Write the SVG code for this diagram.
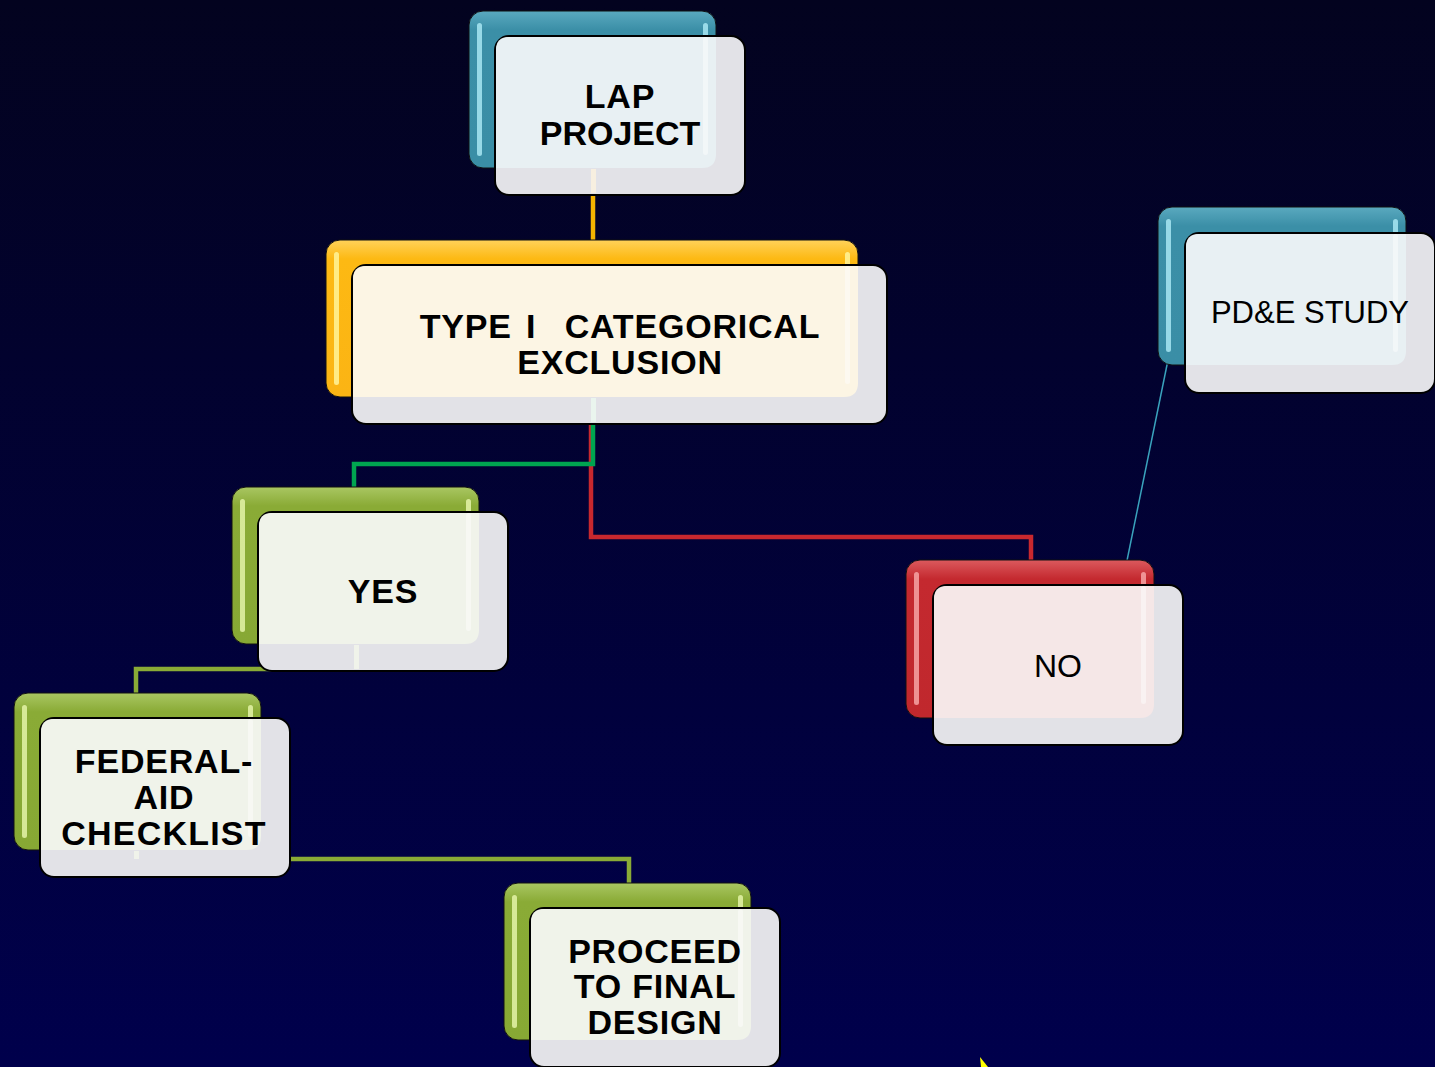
<svg xmlns="http://www.w3.org/2000/svg" width="1435" height="1067" viewBox="0 0 1435 1067">
<defs>
<linearGradient id="bg" x1="0" y1="0" x2="0" y2="1">
<stop offset="0" stop-color="#03031f"/>
<stop offset="1" stop-color="#00004c"/>
</linearGradient>
<linearGradient id="gBlue" x1="0" y1="0" x2="0" y2="1">
<stop offset="0" stop-color="#5aa9bf"/>
<stop offset="0.12" stop-color="#3b8fa7"/>
<stop offset="1" stop-color="#3a8ea6"/>
</linearGradient>
<linearGradient id="gOrange" x1="0" y1="0" x2="0" y2="1">
<stop offset="0" stop-color="#ffd25a"/>
<stop offset="0.12" stop-color="#fdb913"/>
<stop offset="1" stop-color="#fbb414"/>
</linearGradient>
<linearGradient id="gGreen" x1="0" y1="0" x2="0" y2="1">
<stop offset="0" stop-color="#a9c662"/>
<stop offset="0.12" stop-color="#8aab36"/>
<stop offset="1" stop-color="#87a834"/>
</linearGradient>
<linearGradient id="gRed" x1="0" y1="0" x2="0" y2="1">
<stop offset="0" stop-color="#dc5a5e"/>
<stop offset="0.12" stop-color="#c4292f"/>
<stop offset="1" stop-color="#c0282d"/>
</linearGradient>
<style>
.back{stroke:#111;stroke-width:1}
.front{fill:#e2e2e7;stroke:#000;stroke-width:2}
.stripe{opacity:0.85}
.glass{fill:#ffffff;opacity:0.45}
.bold{font-family:"Liberation Sans",Arial,sans-serif;font-weight:bold;font-size:34px;fill:#000;text-anchor:middle;letter-spacing:0.8px}
.reg{font-family:"Liberation Sans",Arial,sans-serif;font-weight:normal;font-size:31px;fill:#000;text-anchor:middle}
.conn{fill:none;stroke-width:4.5}
</style>
</defs>
<rect x="0" y="0" width="1435" height="1067" fill="url(#bg)"/>

<g id="connectors">
<path class="conn" d="M593 195 V240" stroke="#f5b400"/>
<path class="conn" d="M591 425 V537 H1031 V561" stroke="#c8282e" stroke-width="4"/>
<path class="conn" d="M593 425 V464 H354 V488" stroke="#00a550"/>
<path class="conn" d="M356 669 H136 V693" stroke="#8aab36"/>
<path class="conn" d="M136 859 H629 V884" stroke="#8aab36"/>
<path d="M1122 585 L1168 360" stroke="#3aa3bd" stroke-width="1.5" fill="none"/>
</g>

<g id="lap" transform="translate(469,11)">
<rect class="back" x="0" y="0" width="247" height="157" rx="14" fill="url(#gBlue)"/>
<rect class="stripe" x="8" y="12" width="5" height="133" rx="2.5" fill="#a8e6f2"/>
<rect class="stripe" x="234" y="12" width="5" height="20" rx="2.5" fill="#a8e6f2"/>
<rect class="front" x="26" y="25" width="250" height="159" rx="14"/>
<path d="M27 39 Q27 26 40 26 H247 V143 Q247 157 233 157 H27 Z" fill="#e8f0f3"/>
<rect class="glass" x="234" y="26" width="5" height="118" rx="2.5"/>
<rect x="122" y="158" width="5" height="24" fill="#f7efe0"/>
<text class="bold" x="151" y="97">LAP</text>
<text class="bold" x="151" y="134" style="letter-spacing:0">PROJECT</text>
</g>

<g id="type1" transform="translate(326,240)">
<rect class="back" x="0" y="0" width="532" height="157" rx="14" fill="url(#gOrange)"/>
<rect class="stripe" x="8" y="12" width="5" height="133" rx="2.5" fill="#fff59a"/>
<rect class="stripe" x="519" y="12" width="5" height="20" rx="2.5" fill="#fff59a"/>
<rect class="front" x="26" y="25" width="535" height="159" rx="14"/>
<path d="M27 39 Q27 26 40 26 H532 V143 Q532 157 518 157 H27 Z" fill="#fcf5e4"/>
<rect class="glass" x="519" y="26" width="5" height="118" rx="2.5"/>
<rect x="265" y="158" width="5" height="24" fill="#eaf5ee"/>
<text class="bold" x="294" y="98" xml:space="preserve" style="word-spacing:4px">TYPE I  CATEGORICAL</text>
<text class="bold" x="294" y="134">EXCLUSION</text>
</g>

<g id="yes" transform="translate(232,487)">
<rect class="back" x="0" y="0" width="247" height="157" rx="14" fill="url(#gGreen)"/>
<rect class="stripe" x="8" y="12" width="5" height="133" rx="2.5" fill="#e4f3a8"/>
<rect class="stripe" x="234" y="12" width="5" height="20" rx="2.5" fill="#e4f3a8"/>
<rect class="front" x="26" y="25" width="250" height="159" rx="14"/>
<path d="M27 39 Q27 26 40 26 H247 V143 Q247 157 233 157 H27 Z" fill="#f0f3ea"/>
<rect class="glass" x="234" y="26" width="5" height="118" rx="2.5"/>
<rect x="122" y="158" width="5" height="24" fill="#f0f3ea"/>
<text class="bold" x="151" y="116">YES</text>
</g>

<g id="federal" transform="translate(14,693)">
<rect class="back" x="0" y="0" width="247" height="157" rx="14" fill="url(#gGreen)"/>
<rect class="stripe" x="8" y="12" width="5" height="133" rx="2.5" fill="#e4f3a8"/>
<rect class="stripe" x="234" y="12" width="5" height="20" rx="2.5" fill="#e4f3a8"/>
<rect class="front" x="26" y="25" width="250" height="159" rx="14"/>
<path d="M27 39 Q27 26 40 26 H247 V143 Q247 157 233 157 H27 Z" fill="#f0f3ea"/>
<rect class="glass" x="234" y="26" width="5" height="118" rx="2.5"/>
<rect x="120" y="158" width="5" height="8" fill="#f0f3ea"/>
<text class="bold" x="150" y="80">FEDERAL-</text>
<text class="bold" x="150" y="116">AID</text>
<text class="bold" x="150" y="152" style="letter-spacing:1.2px">CHECKLIST</text>
</g>

<g id="proceed" transform="translate(504,883)">
<rect class="back" x="0" y="0" width="247" height="157" rx="14" fill="url(#gGreen)"/>
<rect class="stripe" x="8" y="12" width="5" height="133" rx="2.5" fill="#e4f3a8"/>
<rect class="stripe" x="234" y="12" width="5" height="20" rx="2.5" fill="#e4f3a8"/>
<rect class="front" x="26" y="25" width="250" height="159" rx="14"/>
<path d="M27 39 Q27 26 40 26 H247 V143 Q247 157 233 157 H27 Z" fill="#f0f3ea"/>
<rect class="glass" x="234" y="26" width="5" height="118" rx="2.5"/>
<text class="bold" x="151" y="80">PROCEED</text>
<text class="bold" x="151" y="115">TO FINAL</text>
<text class="bold" x="151" y="151">DESIGN</text>
</g>

<g id="no" transform="translate(906,560)">
<rect class="back" x="0" y="0" width="248" height="158" rx="14" fill="url(#gRed)"/>
<rect class="stripe" x="8" y="12" width="5" height="133" rx="2.5" fill="#f6a5a5"/>
<rect class="stripe" x="235" y="12" width="5" height="20" rx="2.5" fill="#f6a5a5"/>
<rect class="front" x="27" y="25" width="250" height="160" rx="14"/>
<path d="M28 39 Q28 26 41 26 H248 V144 Q248 158 234 158 H28 Z" fill="#f5e7e7"/>
<rect class="glass" x="235" y="26" width="5" height="118" rx="2.5"/>
<text class="reg" x="152" y="117" style="font-size:32px">NO</text>
</g>

<g id="pde" transform="translate(1158,207)">
<rect class="back" x="0" y="0" width="248" height="158" rx="14" fill="url(#gBlue)"/>
<rect class="stripe" x="8" y="12" width="5" height="133" rx="2.5" fill="#a8e6f2"/>
<rect class="stripe" x="235" y="12" width="5" height="20" rx="2.5" fill="#a8e6f2"/>
<rect class="front" x="27" y="26" width="250" height="160" rx="14"/>
<path d="M28 40 Q28 27 41 27 H248 V144 Q248 158 234 158 H28 Z" fill="#e8f0f3"/>
<rect class="glass" x="235" y="27" width="5" height="118" rx="2.5"/>
<text class="reg" x="152" y="116">PD&amp;E STUDY</text>
</g>

<polygon points="980,1057 988,1067 981,1067" fill="#ffff00"/>
</svg>
